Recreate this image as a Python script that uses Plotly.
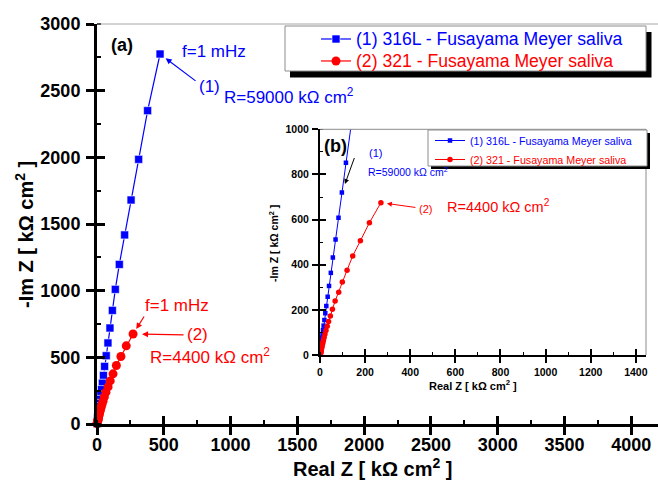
import plotly.graph_objects as go

# ---------------- data ----------------
blue_name = "(1) 316L - Fusayama Meyer saliva"
red_name = "(2) 321 - Fusayama Meyer saliva"

blue_re = [472, 379, 312, 255, 207, 167, 137, 115, 97, 82, 69, 57, 48, 40, 34, 28,
           23.5, 19.5, 16, 13.2, 11, 9.1, 7.6, 6.3, 5.2, 4.3, 3.6, 3.0, 2.5, 2.1,
           1.8, 1.5, 1.3, 1.1, 1.0]
blue_im = [2775, 2350, 1985, 1680, 1418, 1197, 1010, 852, 720, 608, 512, 432, 364,
           306, 258, 217, 185, 155, 130, 110, 92, 77, 64, 53, 44, 36, 29, 23, 18,
           14, 11, 8, 6, 4, 3]

red_re = [270, 219, 179, 145, 120, 99, 83, 67, 55, 46, 38, 32, 26.5, 22, 18.5, 15.5,
          13, 11, 9.2, 7.7, 6.4, 5.3, 4.4, 3.7, 3.1, 2.6, 2.2, 1.9, 1.6, 1.4]
red_im = [675, 586, 506, 439, 376, 323, 278, 239, 203, 173, 148, 127, 109, 93, 79,
          67, 57, 48, 40, 33, 27, 22, 17.5, 14, 11, 8.5, 6.5, 5, 3.8, 2.8]

main_x_range = [0, 4200]
main_y_range = [0, 3000]
inset_x_range = [0, 1445]
inset_y_range = [0, 1000]

# ---------------- styling ----------------
FONT = "Liberation Sans, Arial, Helvetica, sans-serif"
BLUE = "#0000ff"
RED = "#ff0000"
GRAY = "#8c8c8c"

W, H = 658, 480
L, R, T, B = 97, 0, 24, 56
PW, PH = W - L - R, H - T - B


def px(xp):
    return (xp - L) / PW


def py(yp):
    return (H - B - yp) / PH


fig = go.Figure()

# main plot
fig.add_trace(go.Scatter(
    x=blue_re, y=blue_im, mode="lines+markers", xaxis="x", yaxis="y",
    name=f"<span style='color:{BLUE};font-size:17.6px'>{blue_name}</span>",
    legend="legend", cliponaxis=False,
    line=dict(color=BLUE, width=1.2),
    marker=dict(symbol="square", size=8, color=BLUE, line=dict(color="white", width=0.6))))
fig.add_trace(go.Scatter(
    x=red_re, y=red_im, mode="lines+markers", xaxis="x", yaxis="y",
    name=f"<span style='color:{RED};font-size:17.6px'>{red_name}</span>",
    legend="legend", cliponaxis=False,
    line=dict(color=RED, width=1.2),
    marker=dict(symbol="circle", size=9, color=RED)))

# inset
fig.add_trace(go.Scatter(
    x=blue_re, y=blue_im, mode="lines+markers", xaxis="x2", yaxis="y2",
    name=f"<span style='color:{BLUE}'>{blue_name}</span>", legend="legend2",
    line=dict(color=BLUE, width=1),
    marker=dict(symbol="square", size=4.5, color=BLUE)))
fig.add_trace(go.Scatter(
    x=red_re, y=red_im, mode="lines+markers", xaxis="x2", yaxis="y2",
    name=f"<span style='color:{RED}'>{red_name}</span>", legend="legend2",
    line=dict(color=RED, width=1),
    marker=dict(symbol="circle", size=5.5, color=RED)))

# empty traces to activate overlay axes (inner half of crossing ticks)
fig.add_trace(go.Scatter(x=[], y=[], xaxis="x3", yaxis="y3", showlegend=False))
fig.add_trace(go.Scatter(x=[], y=[], xaxis="x4", yaxis="y4", showlegend=False))

tick_main = dict(family=FONT, size=18, color="black", weight="bold")
tick_inset = dict(family=FONT, size=10.5, color="black", weight="bold")

common = dict(showgrid=False, zeroline=False)

fig.update_layout(
    width=W, height=H,
    margin=dict(l=L, r=R, t=T, b=B, pad=0, autoexpand=False),
    paper_bgcolor="white", plot_bgcolor="white",
    font=dict(family=FONT, color="black"),
    xaxis=dict(domain=[0, 1], anchor="y", range=main_x_range, **common,
               showline=True, linecolor="black", linewidth=3,
               ticks="outside", ticklen=8, tickwidth=2.5, tickcolor="black",
               tick0=0, dtick=500, tickfont=tick_main, ticklabelstandoff=-6,
               minor=dict(ticks="inside", ticklen=4, tickwidth=2, tickcolor="black",
                          tick0=0, dtick=250)),
    yaxis=dict(domain=[0, 1], anchor="x", range=main_y_range, **common,
               showline=True, linecolor="black", linewidth=3,
               ticks="outside", ticklen=8, tickwidth=2.5, tickcolor="black",
               tick0=0, dtick=500, tickfont=tick_main, ticklabelstandoff=2,
               minor=dict(ticks="inside", ticklen=4, tickwidth=2, tickcolor="black",
                          tick0=0, dtick=250)),
    xaxis3=dict(overlaying="x", matches="x", anchor="y", **common, showline=False,
                ticks="inside", ticklen=8, tickwidth=2.5, tickcolor="black",
                tick0=0, dtick=500, showticklabels=False),
    yaxis3=dict(overlaying="y", matches="y", anchor="x", **common, showline=False,
                ticks="inside", ticklen=8, tickwidth=2.5, tickcolor="black",
                tick0=0, dtick=500, showticklabels=False),
    xaxis2=dict(domain=[px(320), px(646)], anchor="y2", range=inset_x_range, **common,
                showline=True, linecolor="black", linewidth=2,
                ticks="outside", ticklen=6, tickwidth=1.5, tickcolor="black",
                tick0=0, dtick=200, tickfont=tick_inset, ticklabelstandoff=0,
                minor=dict(ticks="inside", ticklen=3, tickwidth=1.2, tickcolor="black",
                           tick0=0, dtick=100)),
    yaxis2=dict(domain=[py(355), py(129.3)], anchor="x2", range=inset_y_range, **common,
                showline=True, linecolor="black", linewidth=2,
                ticks="outside", ticklen=6, tickwidth=1.5, tickcolor="black",
                tick0=0, dtick=200, tickfont=tick_inset, ticklabelstandoff=1,
                minor=dict(ticks="inside", ticklen=3, tickwidth=1.2, tickcolor="black",
                           tick0=0, dtick=100)),
    xaxis4=dict(overlaying="x2", matches="x2", anchor="y2", **common, showline=False,
                ticks="inside", ticklen=6, tickwidth=1.5, tickcolor="black",
                tick0=0, dtick=200, showticklabels=False),
    yaxis4=dict(overlaying="y2", matches="y2", anchor="x2", **common, showline=False,
                ticks="inside", ticklen=6, tickwidth=1.5, tickcolor="black",
                tick0=0, dtick=200, showticklabels=False),
    legend=dict(x=px(316), y=py(23), xanchor="left", yanchor="top",
                bgcolor="rgba(0,0,0,0)", borderwidth=0,
                font=dict(family=FONT, size=14.6), tracegroupgap=0),
    legend2=dict(x=px(430), y=py(126), xanchor="left", yanchor="top",
                 bgcolor="rgba(0,0,0,0)", borderwidth=0,
                 font=dict(family=FONT, size=10.7), tracegroupgap=0),
    showlegend=True,
)

# frame lines and legend boxes with drop shadow
shapes = [
    dict(type="line", xref="paper", yref="paper", x0=0, x1=1, y0=1, y1=1,
         line=dict(color="#a6a6a6", width=1)),
    dict(type="line", xref="x2 domain", yref="y2 domain", x0=1, x1=1, y0=0, y1=1,
         line=dict(color=GRAY, width=1)),
    dict(type="line", xref="x2 domain", yref="y2 domain", x0=0, x1=1, y0=1, y1=1,
         line=dict(color=GRAY, width=1)),
    # main legend
    dict(type="rect", xref="paper", yref="paper", x0=px(290), x1=px(651.5),
         y0=py(77.5), y1=py(32), fillcolor="black", line=dict(width=0)),
    dict(type="rect", xref="paper", yref="paper", x0=px(285), x1=px(646),
         y0=py(71), y1=py(26), fillcolor="white", line=dict(color=GRAY, width=1)),
    # inset legend
    dict(type="rect", xref="paper", yref="paper", x0=px(431), x1=px(650),
         y0=py(169), y1=py(133), fillcolor="black", line=dict(width=0)),
    dict(type="rect", xref="paper", yref="paper", x0=px(428), x1=px(647),
         y0=py(166), y1=py(130), fillcolor="white", line=dict(color=GRAY, width=1)),
]
fig.update_layout(shapes=shapes)


def ann(text, xp, yp, size, color="black", xanchor="center", angle=0):
    return dict(text=text, x=px(xp), y=py(yp), xref="paper", yref="paper",
                showarrow=False, xanchor=xanchor, yanchor="middle", textangle=angle,
                font=dict(family=FONT, size=size, color=color))


def arrow(x, y, ax, ay, color, ref="", standoff=6, width=1.2):
    return dict(text="", x=x, y=y, xref="x" + ref, yref="y" + ref, ax=ax, ay=ay,
                showarrow=True, arrowhead=2, arrowsize=1, arrowwidth=width,
                arrowcolor=color, standoff=standoff)


annotations = [
    # titles
    ann("<b>-Im Z [ kΩ cm<sup>2</sup> ]</b>", 24, 235, 20, angle=-90),
    ann("<b>Real Z [ kΩ cm<sup>2</sup> ]</b>", 372, 467, 20),
    ann("<b>-Im Z [ kΩ cm<sup>2</sup> ]</b>", 273, 244, 10.5, angle=-90),
    ann("<b>Real Z [ kΩ cm<sup>2</sup> ]</b>", 473, 385, 11),
    # main plot labels
    ann("<b>(a)</b>", 122, 45, 18),
    ann("f=1 mHz", 214, 51, 17, BLUE),
    ann("(1)", 209, 87, 17, BLUE),
    ann("R=59000 kΩ cm<sup>2</sup>", 222, 96, 17, BLUE, xanchor="left"),
    ann("f=1 mHz", 177, 305, 17, RED),
    ann("(2)", 197, 334, 17, RED),
    ann("R=4400 kΩ cm<sup>2</sup>", 148, 356, 17, RED, xanchor="left"),
    # inset labels
    ann("<b>(b)</b>", 335, 146, 18),
    ann("(1)", 375, 153, 11, BLUE),
    ann("R=59000 kΩ cm<sup>2</sup>", 366, 171, 10.5, BLUE, xanchor="left"),
    ann("(2)", 425, 209, 11, RED),
    ann("R=4400 kΩ cm<sup>2</sup>", 445, 206, 14.5, RED, xanchor="left"),
    # arrows
    arrow(blue_re[0], blue_im[0], 37, 28, BLUE, standoff=7),
    arrow(red_re[0], red_im[0], 12, -19, RED, standoff=6),
    arrow(red_re[0], red_im[0], 52, 1, RED, standoff=9),
    arrow(blue_re[8], blue_im[8], 13, -36, "black", ref="2", standoff=9, width=1),
    arrow(red_re[0], red_im[0], 36, 5, RED, ref="2", standoff=6, width=1),
]
fig.update_layout(annotations=annotations)

fig.write_html("out.html",
               config={"displayModeBar": False},
               post_script="document.body.style.margin='0';"
                           "document.body.style.padding='0';"
                           "window.dispatchEvent(new Event('resize'));")
